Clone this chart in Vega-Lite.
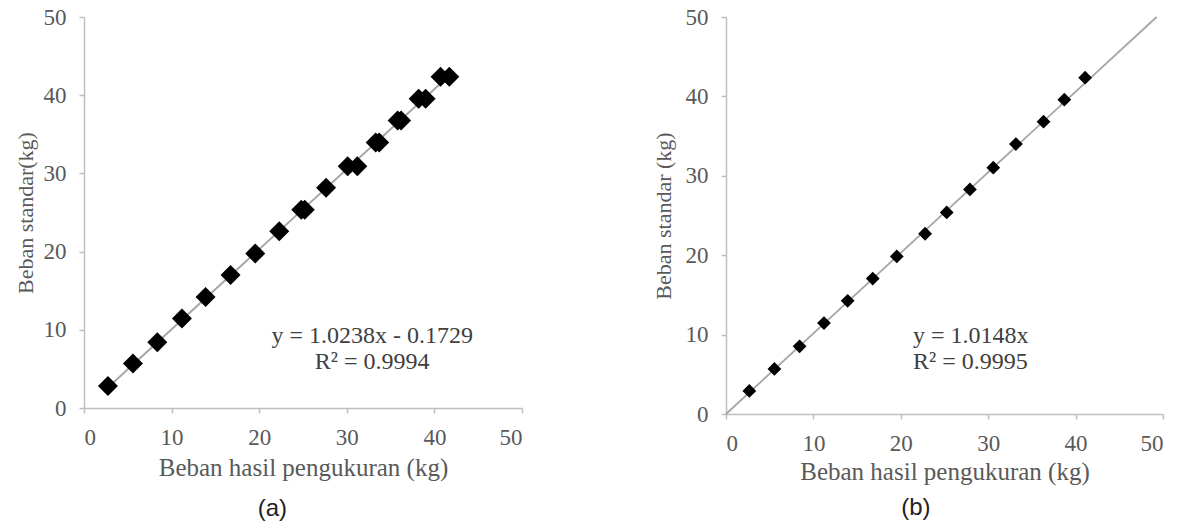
{
  "$schema": "https://vega.github.io/schema/vega-lite/v6.json",
  "background": "white",
  "padding": {"left": 14, "top": 6, "right": 2, "bottom": 2},
  "config": {
    "view": {"stroke": null},
    "font": "Liberation Serif",
    "axis": {
      "grid": false,
      "domainColor": "#bfbfbf",
      "tickColor": "#bfbfbf",
      "domainWidth": 1.5,
      "tickWidth": 1.5,
      "tickSize": 5,
      "labelFont": "Liberation Serif",
      "labelFontSize": 23,
      "labelColor": "#595959",
      "labelPadding": 13,
      "titleFont": "Liberation Serif",
      "titleFontWeight": "normal",
      "titleColor": "#595959"
    },
    "concat": {"spacing": 129},
    "title": {"font": "Liberation Sans", "fontSize": 24, "color": "#222222", "fontWeight": "normal"}
  },
  "datasets": {
    "pointsA": [
      {"x": 2.73, "y": 2.80}, {"x": 5.59, "y": 5.69}, {"x": 8.37, "y": 8.41},
      {"x": 11.18, "y": 11.45}, {"x": 13.88, "y": 14.2}, {"x": 16.73, "y": 17.0},
      {"x": 19.55, "y": 19.75}, {"x": 22.29, "y": 22.6}, {"x": 24.8, "y": 25.35},
      {"x": 25.2, "y": 25.35}, {"x": 27.63, "y": 28.15}, {"x": 30.1, "y": 30.9},
      {"x": 31.2, "y": 30.9}, {"x": 33.3, "y": 33.95}, {"x": 33.7, "y": 33.95},
      {"x": 35.8, "y": 36.75}, {"x": 36.2, "y": 36.75}, {"x": 38.2, "y": 39.55},
      {"x": 39.0, "y": 39.55}, {"x": 40.7, "y": 42.35}, {"x": 41.7, "y": 42.35}
    ],
    "lineA": [{"x": 2.73, "y": 2.62}, {"x": 41.7, "y": 42.52}],
    "annA": [
      {"x": 32.9, "y": 9.2, "t": "y = 1.0238x - 0.1729"},
      {"x": 32.9, "y": 5.9, "t": "R² = 0.9994"}
    ],
    "pointsB": [
      {"x": 2.67, "y": 2.90}, {"x": 5.54, "y": 5.67}, {"x": 8.42, "y": 8.53},
      {"x": 11.21, "y": 11.45}, {"x": 13.92, "y": 14.25}, {"x": 16.79, "y": 17.06},
      {"x": 19.54, "y": 19.84}, {"x": 22.78, "y": 22.70}, {"x": 25.25, "y": 25.38},
      {"x": 27.91, "y": 28.29}, {"x": 30.58, "y": 31.02}, {"x": 33.17, "y": 34.0},
      {"x": 36.33, "y": 36.82}, {"x": 38.71, "y": 39.59}, {"x": 41.09, "y": 42.36}
    ],
    "lineB": [{"x": 0, "y": 0}, {"x": 49.27, "y": 50}],
    "annB": [
      {"x": 21.4, "y": 9.82, "t": "y = 1.0148x"},
      {"x": 21.4, "y": 6.55, "t": "R² = 0.9995"}
    ]
  },
  "hconcat": [
    {
      "width": 438,
      "height": 391,
      "title": {"text": "(a)", "orient": "bottom", "anchor": "middle", "frame": "bounds", "offset": 17, "dx": 4},
      "layer": [
        {
          "data": {"name": "lineA"},
          "mark": {"type": "line", "color": "#a6a6a6", "strokeWidth": 2},
          "encoding": {
            "x": {"field": "x", "type": "quantitative", "scale": {"domain": [0, 50], "nice": false},
              "axis": {"values": [0, 10, 20, 30, 40, 50], "title": "Beban hasil pengukuran (kg)", "titleFontSize": 25, "titlePadding": 6}},
            "y": {"field": "y", "type": "quantitative", "scale": {"domain": [0, 50], "nice": false},
              "axis": {"values": [0, 10, 20, 30, 40, 50], "title": "Beban standar(kg)", "titleFontSize": 22, "titlePadding": 6}}
          }
        },
        {
          "data": {"name": "pointsA"},
          "mark": {"type": "point", "shape": "diamond", "filled": true, "color": "#000000", "opacity": 1, "size": 400},
          "encoding": {
            "x": {"field": "x", "type": "quantitative"},
            "y": {"field": "y", "type": "quantitative"}
          }
        },
        {
          "data": {"name": "annA"},
          "mark": {"type": "text", "font": "Liberation Serif", "fontSize": 24, "color": "#404040", "align": "center", "baseline": "middle"},
          "encoding": {
            "x": {"field": "x", "type": "quantitative"},
            "y": {"field": "y", "type": "quantitative"},
            "text": {"field": "t"}
          }
        }
      ]
    },
    {
      "width": 437,
      "height": 397,
      "title": {"text": "(b)", "orient": "bottom", "anchor": "middle", "frame": "bounds", "offset": 12, "dx": 8},
      "layer": [
        {
          "data": {"name": "lineB"},
          "mark": {"type": "line", "color": "#a6a6a6", "strokeWidth": 1.8},
          "encoding": {
            "x": {"field": "x", "type": "quantitative", "scale": {"domain": [0, 50], "nice": false},
              "axis": {"values": [0, 10, 20, 30, 40, 50], "title": "Beban hasil pengukuran (kg)", "titleFontSize": 25, "titlePadding": 4}},
            "y": {"field": "y", "type": "quantitative", "scale": {"domain": [0, 50], "nice": false},
              "axis": {"values": [0, 10, 20, 30, 40, 50], "title": "Beban standar (kg)", "titleFontSize": 22, "titlePadding": 10}}
          }
        },
        {
          "data": {"name": "pointsB"},
          "mark": {"type": "point", "shape": "diamond", "filled": true, "color": "#000000", "opacity": 1, "size": 190},
          "encoding": {
            "x": {"field": "x", "type": "quantitative"},
            "y": {"field": "y", "type": "quantitative"}
          }
        },
        {
          "data": {"name": "annB"},
          "mark": {"type": "text", "font": "Liberation Serif", "fontSize": 24, "color": "#404040", "align": "left", "baseline": "middle"},
          "encoding": {
            "x": {"field": "x", "type": "quantitative"},
            "y": {"field": "y", "type": "quantitative"},
            "text": {"field": "t"}
          }
        }
      ]
    }
  ]
}
